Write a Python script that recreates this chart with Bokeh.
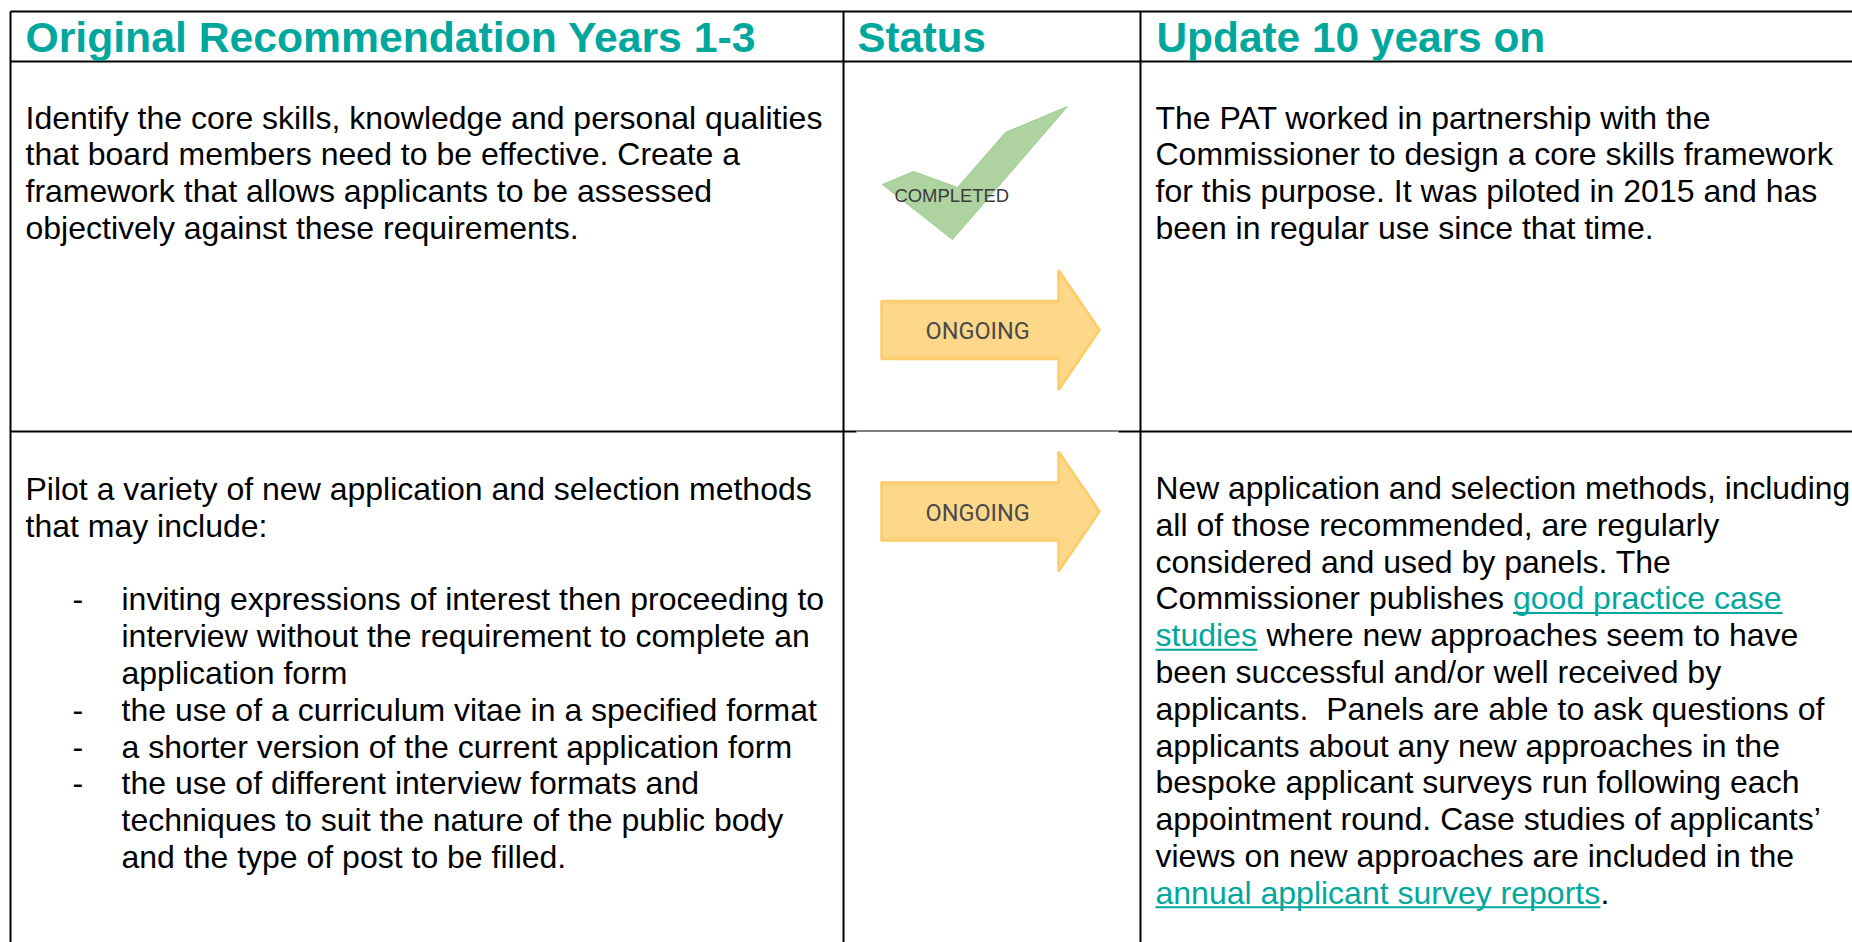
from bokeh.plotting import figure
from bokeh.models import Range1d
from bokeh.core.properties import value
from bokeh.embed import file_html
from bokeh.resources import INLINE

W, H = 1852, 942
TEAL = "#00a79d"
BLACK = "#000000"

headers = ["Original Recommendation Years 1-3", "Status", "Update 10 years on"]
r1_left = ["Identify the core skills, knowledge and personal qualities",
           "that board members need to be effective. Create a",
           "framework that allows applicants to be assessed",
           "objectively against these requirements."]
r1_right = ["The PAT worked in partnership with the",
            "Commissioner to design a core skills framework",
            "for this purpose. It was piloted in 2015 and has",
            "been in regular use since that time."]
r2_left_intro = ["Pilot a variety of new application and selection methods",
                 "that may include:"]
r2_left_items = ["inviting expressions of interest then proceeding to",
                 "interview without the requirement to complete an",
                 "application form",
                 "the use of a curriculum vitae in a specified format",
                 "a shorter version of the current application form",
                 "the use of different interview formats and",
                 "techniques to suit the nature of the public body",
                 "and the type of post to be filled."]
r2_left_dashes = ["-", "", "", "-", "-", "-", "", ""]
r2_right = ["New application and selection methods, including",
            "all of those recommended, are regularly",
            "considered and used by panels. The",
            "Commissioner publishes",
            "",
            "been successful and/or well received by",
            "applicants.\u00a0 Panels are able to ask questions of",
            "applicants about any new approaches in the",
            "bespoke applicant surveys run following each",
            "appointment round. Case studies of applicants\u2019",
            "views on new approaches are included in the",
            ""]
links = ["good practice case", "studies", "annual applicant survey reports"]
after_links = ["", "where new approaches seem to have", "."]
status_labels = ["COMPLETED", "ONGOING"]

p = figure(width=W, height=H, output_backend="svg", toolbar_location=None,
           x_range=Range1d(0, W), y_range=Range1d(H, 0),
           min_border=0, outline_line_color=None)
p.axis.visible = False
p.grid.visible = False

F = value("Liberation Sans")
BODY = 32
X1, X2, X3, XR = 10, 843, 1140, 1852
Y0, Y1, Y2, YB = 11, 61, 431, 942
LH = 36.8
BASE_SHIFT = 0.33  # the svg text sits this many em below the asked baseline

def T(x, y, s, size=BODY, color=BLACK, style="normal", font=F):
    p.text([x], [y - BASE_SHIFT * size], text=[s], text_font=font, text_font_size=f"{size}px",
           text_color=color, text_font_style=style, text_baseline="alphabetic", text_align="left")

def R(x0, x1, y, color=BLACK, w=2):
    p.line([x0, x1], [y, y], line_color=color, line_width=w)

# grid
for x in (X1, X2, X3):
    p.line([x, x], [Y0, YB], line_color=BLACK, line_width=2)
for y in (Y0, Y1):
    R(X1, XR, y)
R(X1, 856, Y2)
R(856, 1118, Y2 - 0.5, w=1)
R(1118, XR, Y2)

# headers
for x, s, size in zip((25, 857, 1156), headers, (42.7, 42, 42.4)):
    T(x, 51, s, size=size, color=TEAL, style="bold")

# body text
for i, s in enumerate(r1_left):
    T(25, 127.6 + i * LH, s)
for i, s in enumerate(r1_right):
    T(1155, 127.6 + i * LH, s)
for i, s in enumerate(r2_left_intro):
    T(25, 499.2 + i * LH, s)
for i, (d, s) in enumerate(zip(r2_left_dashes, r2_left_items)):
    y = 609.4 + i * LH
    if d:
        T(72, y, d)
    T(121, y, s)

# right column row two
Y_R = 498
for i, s in enumerate(r2_right):
    if s:
        T(1155, Y_R + i * LH, s, size=31.8 if i == 0 else BODY)
link_x = [(1512.5, 1782), (1155, 1257), (1155, 1600)]
link_row = [3, 4, 11]
after_x = [0, 1266, 1600]
for s, a, (x0, x1), row, ax in zip(links, after_links, link_x, link_row, after_x):
    y = Y_R + row * LH
    T(x0, y, s, color=TEAL)
    R(x0, x1, y + 4, color=TEAL, w=2)
    if a:
        T(ax, y, a)

# status graphics
p.patch([882, 913, 957, 1005, 1067, 952], [184, 171, 187, 132, 106, 239],
        fill_color="#afd3a0", line_color="#9ccb8c", line_width=1)
T(894, 201.5, status_labels[0], size=18.4, color="#3a3a3a")
for cy in (329.5, 511):
    p.patch([881, 1058, 1058, 1099, 1058, 1058, 881],
            [cy-29, cy-29, cy-60, cy, cy+60, cy+29, cy+29],
            fill_color="#fdd88a", line_color="#fdcc66", line_width=2.5)
    R(882, 1057, cy - 27, color="#fdd27c", w=3)
    R(882, 1057, cy + 27, color="#fdd27c", w=3)
    T(925, cy + 9, status_labels[1], size=23.5, color="#4a4a4a", font=value("Roboto"))

open("out.html", "w").write(file_html(p, INLINE))
